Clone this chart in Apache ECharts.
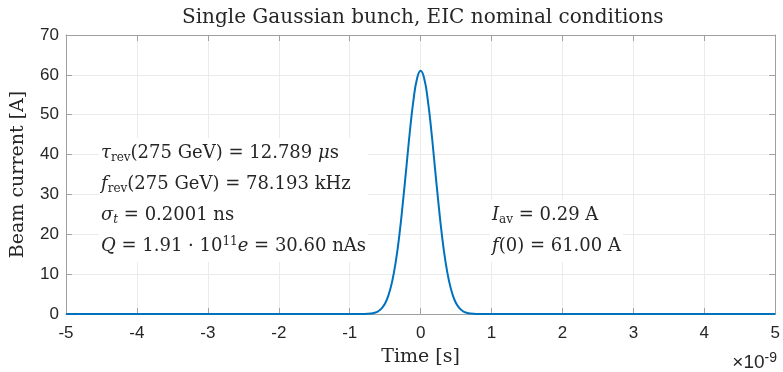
<!DOCTYPE html>
<html>
<head>
<meta charset="utf-8">
<script src="https://cdn.jsdelivr.net/npm/echarts@6/dist/echarts.min.js"></script>
<style>
  html, body { margin: 0; padding: 0; background: #fff; }
  #chart { width: 783px; height: 372px; }
</style>
</head>
<body>
<div id="chart"></div>
<script>
// time in ns (axis shows x 10^-9 s), current in A
const timeNs = [-5, -2, -1, -0.9, -0.8, -0.7, -0.65, -0.6, -0.55, -0.5, -0.45, -0.4, -0.35, -0.3, -0.25, -0.2, -0.15, -0.1, -0.05,
  0, 0.05, 0.1, 0.15, 0.2, 0.25, 0.3, 0.35, 0.4, 0.45, 0.5, 0.55, 0.6, 0.65, 0.7, 0.8, 0.9, 1, 2, 5]
const currentA = [0, 0, 0, 0, 0.02, 0.13, 0.31, 0.68, 1.4, 2.7, 4.9, 8.3, 13.2, 19.8, 28.0, 37.0, 46.1, 53.8, 59.1,
  61.0, 59.1, 53.8, 46.1, 37.0, 28.0, 19.8, 13.2, 8.3, 4.9, 2.7, 1.4, 0.68, 0.31, 0.13, 0.02, 0, 0, 0, 0]
const xTicks = { min: -5, max: 5, step: 1 }
const yTicks = { min: 0, max: 70, step: 10 }

const serif = '"DejaVu Serif", "Liberation Serif", serif'
const sans = '"Liberation Sans", Arial, sans-serif'
const frameColor = '#a0a0a0'
const gridColor = '#ebebeb'
const textColor = '#262626'
const LH = 31

const rich = {
  n: { fontFamily: serif, fontSize: 18, color: textColor, lineHeight: LH },
  i: { fontFamily: serif, fontSize: 18, fontStyle: 'italic', color: textColor, lineHeight: LH },
  sub: { fontFamily: serif, fontSize: 12, color: textColor, lineHeight: 12, padding: [9, 0, 0, 0] },
  subi: { fontFamily: serif, fontSize: 12, fontStyle: 'italic', color: textColor, lineHeight: 12, padding: [9, 0, 0, 0] },
  sup: { fontFamily: serif, fontSize: 12, color: textColor, lineHeight: 12, padding: [0, 0, 9, 0] }
}

// multi-line note on a white box, like the MATLAB text objects
function note(x, y, lines) {
  return {
    type: 'text', left: x, top: y, z: 10,
    style: {
      text: lines.join('\n'), rich: rich, fill: textColor, font: '18px ' + serif,
      backgroundColor: '#fff', padding: [0, 2, 0, 2]
    }
  }
}

const data = timeNs.map((t, k) => [t, currentA[k]])

const axisCommon = {
  type: 'value',
  axisLine: { show: true, onZero: false, lineStyle: { color: frameColor, width: 1 } },
  axisTick: { show: true, inside: true, length: 6, lineStyle: { color: frameColor } }
}

const myEchart = echarts.init(document.getElementById('chart'), null, { renderer: 'canvas' })
myEchart.setOption({
  animation: false,
  title: {
    text: 'Single Gaussian bunch, EIC nominal conditions',
    left: 177, top: 3,
    textStyle: { fontFamily: serif, fontSize: 20, fontWeight: 'normal', color: textColor }
  },
  grid: { left: 66, right: 7, top: 35, bottom: 58 },
  xAxis: [
    Object.assign({}, axisCommon, {
      position: 'bottom', min: xTicks.min, max: xTicks.max, interval: xTicks.step,
      axisLabel: { color: textColor, fontFamily: sans, fontSize: 17, margin: 11 },
      splitLine: { show: true, lineStyle: { color: gridColor } },
      name: 'Time [s]', nameLocation: 'middle', nameGap: 34,
      nameTextStyle: { fontFamily: serif, fontSize: 19, color: textColor }
    }),
    Object.assign({}, axisCommon, {
      position: 'top', min: xTicks.min, max: xTicks.max, interval: xTicks.step,
      axisLabel: { show: false }, splitLine: { show: false }
    })
  ],
  yAxis: [
    Object.assign({}, axisCommon, {
      position: 'left', min: yTicks.min, max: yTicks.max, interval: yTicks.step,
      axisLabel: { color: textColor, fontFamily: sans, fontSize: 17, margin: 7 },
      splitLine: { show: true, lineStyle: { color: gridColor } },
      name: 'Beam current [A]', nameLocation: 'middle', nameGap: 38,
      nameTextStyle: { fontFamily: serif, fontSize: 19, color: textColor }
    }),
    Object.assign({}, axisCommon, {
      position: 'right', min: yTicks.min, max: yTicks.max, interval: yTicks.step,
      axisLabel: { show: false }, splitLine: { show: false }
    })
  ],
  series: [{
    type: 'line', data: data, xAxisIndex: 0, yAxisIndex: 0,
    smooth: true, showSymbol: false,
    lineStyle: { color: '#0072BD', width: 2 }
  }],
  graphic: [
    note(99, 138, [
      '{i|τ}{sub|rev}{n|(275 GeV) = 12.789 }{i|μ}{n|s}',
      '{i|f}{sub|rev}{n|(275 GeV) = 78.193 kHz}',
      '{i|σ}{subi|t}{n| = 0.2001 ns}',
      '{i|Q}{n| = 1.91 · 10}{sup|11}{i|e}{n| = 30.60 nAs}'
    ]),
    note(490, 200, [
      '{i|I}{sub|av}{n| = 0.29 A}',
      '{i|f}{n|(0) = 61.00 A}'
    ]),
    {
      type: 'text', right: 6, top: 351,
      style: { text: '×10{s|-9}', fill: textColor, font: '19px ' + sans,
        rich: { s: { fontFamily: sans, fontSize: 14, color: textColor, padding: [0, 0, 10, 0] } } }
    }
  ]
})
</script>
</body>
</html>
